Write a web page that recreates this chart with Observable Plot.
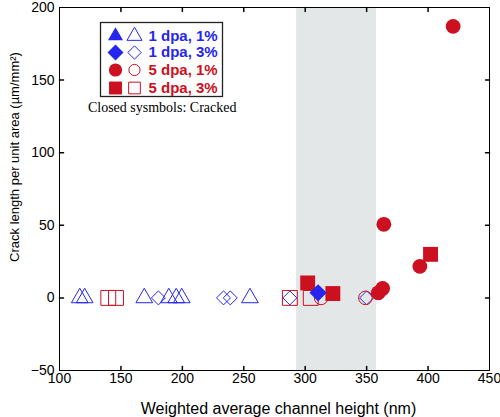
<!DOCTYPE html>
<html><head><meta charset="utf-8">
<script src="https://cdn.jsdelivr.net/npm/d3@7"></script>
<script src="https://cdn.jsdelivr.net/npm/@observablehq/plot@0.6"></script>
<style>body{margin:0;background:#fff;}</style>
</head><body><div id="chart"></div>
<script>
const xTicks = [100, 150, 200, 250, 300, 350, 400, 450];
const yTicks = [-50, 0, 50, 100, 150, 200];
const shadedRange = [{x1: 293, x2: 358}];

// 1 dpa, 1% (triangles)
const tri1Open = [{x: 116.5, y: 0}, {x: 120.5, y: 0}, {x: 169, y: 0}, {x: 189, y: 0}, {x: 195, y: 0}, {x: 199.5, y: 0}, {x: 255, y: 0}];
// 1 dpa, 3% (diamonds)
const dia3Open = [{x: 180.5, y: 0}, {x: 233.5, y: 0}, {x: 239, y: 0}, {x: 287.5, y: 0}, {x: 350, y: 0}];
const dia3Closed = [{x: 310.5, y: 3.5}];
// 5 dpa, 1% (circles)
const circ1Open = [{x: 313, y: 0}, {x: 349, y: 0}];
const circ1Closed = [{x: 359.5, y: 3.5}, {x: 363, y: 6.5}, {x: 364, y: 50.7}, {x: 393.3, y: 21.7}, {x: 420.4, y: 187}];
// 5 dpa, 3% (squares)
const sq3Open = [{x: 139.7, y: 0}, {x: 146, y: 0}, {x: 287.5, y: 0}, {x: 304.5, y: 0}];
const sq3Closed = [{x: 302, y: 10.3}, {x: 322.5, y: 3}, {x: 402, y: 30}];

const legendLabels = ["1 dpa, 1%", "1 dpa, 3%", "5 dpa, 1%", "5 dpa, 3%"];
const legendNote = "Closed sysmbols: Cracked";
const xLabel = "Weighted average channel height (nm)";
const yLabel = "Crack length per unit area (µm/mm²)";

const blue = "#2626ee";
const red = "#cc1020";
const sans = "'Liberation Sans', Arial, sans-serif";
const serif = "'Liberation Serif', 'Times New Roman', serif";

const tickShape = {draw(context, l) { context.moveTo(0, 0); context.lineTo(0, -l); }};
const innerX = xTicks.slice(1, -1);
const innerY = yTicks.slice(1, -1);

const legendSymbols = [
  {sym: d3.symbolTriangle, rF: 5.6, rO: 5.6, color: blue},
  {sym: d3.symbolDiamond2, rF: 7.2, rO: 6.0, color: blue},
  {sym: d3.symbolCircle, rF: 6.6, rO: 5.6, color: red},
  {sym: d3.symbolSquare, rF: 7.3, rO: 6.6, color: red}
];
const rowDy = [28.5, 45, 62.5, 80.5];

const legendMarks = [];
legendMarks.push(Plot.frame({insetLeft: 41, insetTop: 15, insetRight: 267, insetBottom: 274, fill: "white", stroke: "#222", strokeWidth: 1.3}));
legendSymbols.forEach((s, i) => {
  legendMarks.push(Plot.dot([0], {frameAnchor: "top-left", dx: 56, dy: rowDy[i], symbol: s.sym, r: s.rF, fill: s.color, stroke: "none"}));
  legendMarks.push(Plot.dot([0], {frameAnchor: "top-left", dx: 75, dy: rowDy[i], symbol: s.sym, r: s.rO, fill: "none", stroke: s.color, strokeWidth: 1}));
  legendMarks.push(Plot.text([legendLabels[i]], {frameAnchor: "top-left", dx: 89, dy: rowDy[i], text: d => d, textAnchor: "start", lineAnchor: "middle", fill: s.color, fontWeight: "bold", fontSize: 15, fontFamily: sans}));
});
legendMarks.push(Plot.text([legendNote], {frameAnchor: "top-left", dx: 102.7, dy: 100, text: d => d, textAnchor: "middle", lineAnchor: "middle", fill: "black", fontSize: 14, fontFamily: serif}));

const chart = Plot.plot({
  width: 500, height: 417,
  marginLeft: 59, marginRight: 11, marginTop: 7, marginBottom: 47,
  x: {domain: [100, 450]},
  y: {domain: [-50, 200]},
  style: {fontFamily: sans, fontSize: "14px", color: "black", background: "white"},
  marks: [
    Plot.rect(shadedRange, {x1: "x1", x2: "x2", fill: "#e3e7e7"}),
    Plot.axisX(xTicks, {anchor: "bottom", tickSize: 0, tickPadding: 2.5, label: null, fontSize: 14}),
    Plot.axisY(yTicks, {anchor: "left", tickSize: 0, tickPadding: 5, label: null, fontSize: 14}),
    Plot.vector(innerX, {x: d => d, frameAnchor: "bottom", length: 4, rotate: 0, anchor: "start", shape: tickShape, stroke: "black"}),
    Plot.vector(innerX, {x: d => d, frameAnchor: "top", length: 4, rotate: 180, anchor: "start", shape: tickShape, stroke: "black"}),
    Plot.vector(innerY, {y: d => d, frameAnchor: "left", length: 4, rotate: 90, anchor: "start", shape: tickShape, stroke: "black"}),
    Plot.vector(innerY, {y: d => d, frameAnchor: "right", length: 4, rotate: -90, anchor: "start", shape: tickShape, stroke: "black"}),
    Plot.frame({stroke: "black", strokeWidth: 1}),
    Plot.text([xLabel], {frameAnchor: "bottom", dx: 4, dy: 38, text: d => d, textAnchor: "middle", lineAnchor: "middle", fontSize: 16, fontFamily: sans, fill: "black"}),
    Plot.text([yLabel], {frameAnchor: "left", dx: -45, dy: -32, rotate: -90, text: d => d, textAnchor: "middle", lineAnchor: "middle", fontSize: 13, fontFamily: sans, fill: "black"}),
    // open (uncracked) symbols
    Plot.dot(tri1Open, {x: "x", y: "y", symbol: d3.symbolTriangle, r: 6.2, fill: "none", stroke: blue, strokeWidth: 1}),
    Plot.dot(sq3Open, {x: "x", y: "y", symbol: d3.symbolSquare, r: 8.4, fill: "none", stroke: red, strokeWidth: 1}),
    Plot.dot(dia3Open, {x: "x", y: "y", symbol: d3.symbolDiamond2, r: 6.3, fill: "none", stroke: blue, strokeWidth: 1}),
    Plot.dot(circ1Open, {x: "x", y: "y", symbol: d3.symbolCircle, r: 6.8, fill: "none", stroke: red, strokeWidth: 1}),
    // closed (cracked) symbols
    Plot.dot(sq3Closed, {x: "x", y: "y", symbol: d3.symbolSquare, r: 8.4, fill: red, stroke: "none"}),
    Plot.dot(circ1Closed, {x: "x", y: "y", symbol: d3.symbolCircle, r: 7.4, fill: red, stroke: "none"}),
    Plot.dot(dia3Closed, {x: "x", y: "y", symbol: d3.symbolDiamond2, r: 7.8, fill: blue, stroke: "none"}),
    ...legendMarks
  ]
});
document.getElementById("chart").append(chart);
</script>
</body></html>
